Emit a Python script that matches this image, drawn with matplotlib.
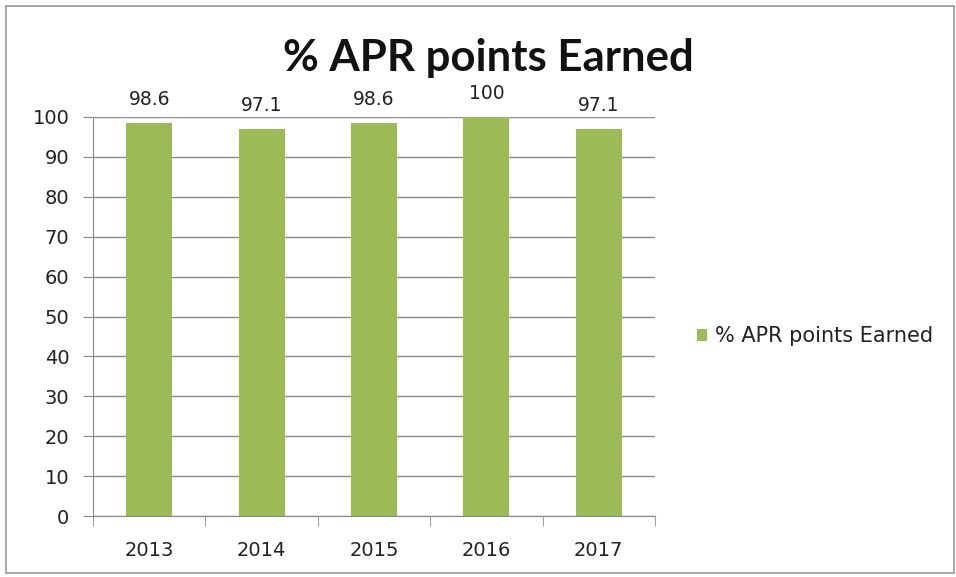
import matplotlib
matplotlib.use("Agg")
import matplotlib.pyplot as plt
from matplotlib.patches import Rectangle

# Dados do gráfico
years = ["2013", "2014", "2015", "2016", "2017"]
apr_points = [98.6, 97.1, 98.6, 100, 97.1]
series_name = "% APR points Earned"

plt.rcParams['font.family'] = ['DejaVu Sans']

fig = plt.figure(figsize=(9.56, 5.77), dpi=100)
ax = fig.add_axes([93 / 956, 61 / 577, 562 / 956, 399 / 577])

x = list(range(len(years)))
ax.bar(x, apr_points, width=0.41, color="#9BBB59", label=series_name, zorder=3)

# Rótulos dos valores
for xi, v in zip(x, apr_points):
    ax.annotate(f"{v:g}", (xi, v), xytext=(0, 10), textcoords="offset points",
                ha="center", va="bottom", fontsize=13.5, color="#222222")

ax.set_xlim(-0.5, len(years) - 0.5)
ax.set_ylim(0, 100)
ax.set_yticks(range(0, 101, 10))
ax.set_xticks(x)
ax.set_xticklabels(years)
ax.set_xticks([i - 0.5 for i in range(len(years) + 1)], minor=True)
ax.tick_params(axis="x", which="major", length=0, pad=18, labelsize=14, labelcolor="#222222")
ax.tick_params(axis="x", which="minor", length=7, color="#888888", direction="out")
ax.tick_params(axis="y", length=7, color="#888888", labelsize=14, labelcolor="#222222", pad=10)

ax.grid(axis="y", color="#8a8a8a", linewidth=1, zorder=0)
for s in ["top", "right"]:
    ax.spines[s].set_visible(False)
for s in ["left", "bottom"]:
    ax.spines[s].set_color("#888888")

fig.suptitle(series_name, x=488 / 956, y=1 - 58 / 577, va="center",
             fontsize=31.5, fontweight="bold", color="#111111", family="Lato")

leg = ax.legend(loc="center left", bbox_to_anchor=(1.0747, 0.451), frameon=False,
                borderaxespad=0, borderpad=0,
                fontsize=15, handlelength=0.5, handleheight=0.5, handletextpad=0.35)
for t in leg.get_texts():
    t.set_color("#222222")

# Borda externa
fig.patches.append(Rectangle((6 / 956, 4 / 577), 948 / 956, 567 / 577, transform=fig.transFigure,
                             fill=False, edgecolor="#999999", linewidth=1.2))

fig.savefig("out.png", dpi=100)
